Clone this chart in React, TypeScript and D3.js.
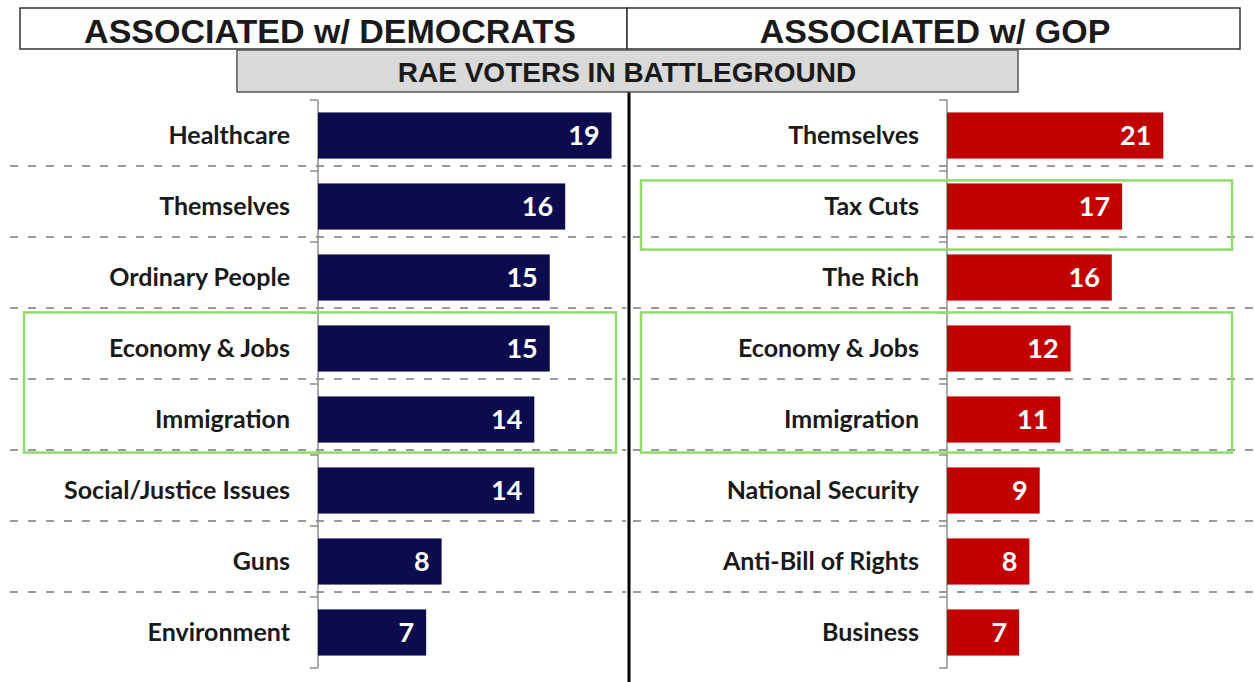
import { scaleBand, scaleLinear } from "d3";

const demCategories = [
  "Healthcare",
  "Themselves",
  "Ordinary People",
  "Economy & Jobs",
  "Immigration",
  "Social/Justice Issues",
  "Guns",
  "Environment",
];
const demValues = [19, 16, 15, 15, 14, 14, 8, 7];

const gopCategories = [
  "Themselves",
  "Tax Cuts",
  "The Rich",
  "Economy & Jobs",
  "Immigration",
  "National Security",
  "Anti-Bill of Rights",
  "Business",
];
const gopValues = [21, 17, 16, 12, 11, 9, 8, 7];

// rows boxed in green on each side
const demHighlights = [["Economy & Jobs", "Immigration"]];
const gopHighlights = [["Tax Cuts"], ["Economy & Jobs", "Immigration"]];

const W = 1254;
const H = 682;
const LABEL_FONT = "Lato, 'Open Sans', sans-serif";
const HEAD_FONT = "'Liberation Sans', Arial, sans-serif";

type PanelProps = {
  categories: string[];
  values: number[];
  highlights: string[][];
  axisX: number;
  max: number;
  color: string;
  gridFrom: number;
  gridTo: number;
  boxFrom: number;
  boxTo: number;
  boxNudge: number[];
};

function Panel(p: PanelProps) {
  const x = scaleLinear().domain([0, p.max]).range([p.axisX, p.axisX + 309]);
  const y = scaleBand<string>()
    .domain(p.categories)
    .range([100, 668])
    .paddingInner(0.35)
    .paddingOuter(0.175);
  const step = y.step();
  const top = y.range()[0];
  const bounds = p.categories.map((_, i) => top + i * step).concat([top + p.categories.length * step]);

  return (
    <g>
      {/* dashed separators */}
      {bounds.slice(1, -1).map((b, i) => (
        <line
          key={"g" + i}
          x1={p.gridFrom}
          x2={p.gridTo}
          y1={b - 5}
          y2={b - 5}
          stroke="#9a9a9a"
          strokeWidth={2.2}
          strokeDasharray="8 10"
        />
      ))}
      {/* axis */}
      <line x1={p.axisX} x2={p.axisX} y1={top} y2={bounds[bounds.length - 1]} stroke="#8c8c8c" strokeWidth={1.5} />
      {bounds.map((b, i) => (
        <line key={"t" + i} x1={p.axisX - 8} x2={p.axisX} y1={b} y2={b} stroke="#8c8c8c" strokeWidth={1.5} />
      ))}
      {p.categories.map((c, i) => {
        const by = y(c)!;
        const cy = by + y.bandwidth() / 2;
        return (
          <g key={c}>
            <rect x={x(0)} y={by} width={x(p.values[i]) - x(0)} height={y.bandwidth()} fill={p.color} />
            <text
              x={p.axisX - 28}
              y={cy}
              dy="0.35em"
              textAnchor="end"
              fontFamily={LABEL_FONT}
              fontWeight={700}
              fontSize={25}
              fill="#1a1a1a"
            >
              {c}
            </text>
            <text
              x={x(p.values[i]) - 12}
              y={cy}
              dy="0.36em"
              textAnchor="end"
              fontFamily={LABEL_FONT}
              fontWeight={700}
              fontSize={27}
              fill="#ffffff"
            >
              {p.values[i]}
            </text>
          </g>
        );
      })}
      {p.highlights.map((h, i) => {
        const y0 = y(h[0])! - 13 + p.boxNudge[i];
        const y1 = y(h[h.length - 1])! + y.bandwidth() + 10 + p.boxNudge[i];
        return (
          <rect
            key={"h" + i}
            x={p.boxFrom}
            y={y0}
            width={p.boxTo - p.boxFrom}
            height={y1 - y0}
            fill="none"
            stroke="#8fdc6c"
            strokeWidth={2.5}
          />
        );
      })}
    </g>
  );
}

export default function App() {
  return (
    <svg
      width={W}
      height={H}
      viewBox={`0 0 ${W} ${H}`}
      style={{ position: "absolute", left: 0, top: 0, background: "#ffffff" }}
    >
      <rect width={W} height={H} fill="#ffffff" />
      <Panel
        categories={demCategories}
        values={demValues}
        highlights={demHighlights}
        axisX={318}
        max={20}
        color="#0c0b4e"
        gridFrom={10}
        gridTo={626}
        boxFrom={24}
        boxTo={616}
        boxNudge={[0]}
      />
      <Panel
        categories={gopCategories}
        values={gopValues}
        highlights={gopHighlights}
        axisX={947}
        max={30}
        color="#c20000"
        gridFrom={633}
        gridTo={1254}
        boxFrom={641}
        boxTo={1232}
        boxNudge={[10, 0]}
      />
      {/* divider */}
      <line x1={629} x2={629} y1={49} y2={H} stroke="#000" strokeWidth={3} />
      {/* headers */}
      <rect x={20} y={8} width={607} height={41} fill="#fff" stroke="#333" strokeWidth={1.5} />
      <rect x={627} y={8} width={613} height={41} fill="#fff" stroke="#333" strokeWidth={1.5} />
      <text x={330} y={43} textAnchor="middle" fontFamily={HEAD_FONT} fontWeight={700} fontSize={34} fill="#1a1a1a">
        ASSOCIATED w/ DEMOCRATS
      </text>
      <text x={935} y={43} textAnchor="middle" fontFamily={HEAD_FONT} fontWeight={700} fontSize={34} fill="#1a1a1a">
        ASSOCIATED w/ GOP
      </text>
      <rect x={237} y={50} width={781} height={42} fill="#d9d9d9" stroke="#555" strokeWidth={1.5} />
      <text x={627} y={82} textAnchor="middle" fontFamily={HEAD_FONT} fontWeight={700} fontSize={28} fill="#1a1a1a">
        RAE VOTERS IN BATTLEGROUND
      </text>
    </svg>
  );
}
